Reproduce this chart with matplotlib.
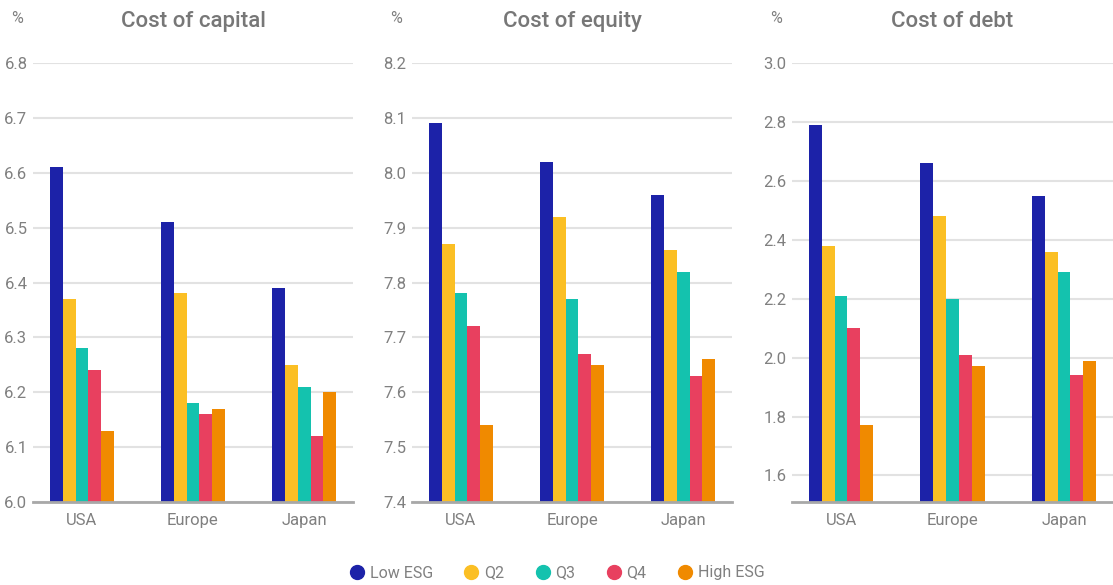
import numpy as np
import matplotlib
matplotlib.use("Agg")
import matplotlib.pyplot as plt
from matplotlib.lines import Line2D

plt.rcParams['font.family'] = ['Roboto', 'DejaVu Sans']

regions = ["USA", "Europe", "Japan"]
quintiles = ["Low ESG", "Q2", "Q3", "Q4", "High ESG"]
colors = ["#1c22a8", "#fbbf24", "#14c2ae", "#e8405f", "#f08a00"]

# cost of capital, one list per ESG quintile (USA, Europe, Japan)
capital = [
    [6.61, 6.51, 6.39],
    [6.37, 6.38, 6.25],
    [6.28, 6.18, 6.21],
    [6.24, 6.16, 6.12],
    [6.13, 6.17, 6.20],
]
equity = [
    [8.09, 8.02, 7.96],
    [7.87, 7.92, 7.86],
    [7.78, 7.77, 7.82],
    [7.72, 7.67, 7.63],
    [7.54, 7.65, 7.66],
]
debt = [
    [2.79, 2.66, 2.55],
    [2.38, 2.48, 2.36],
    [2.21, 2.20, 2.29],
    [2.10, 2.01, 1.94],
    [1.77, 1.97, 1.99],
]

titles = ["Cost of capital", "Cost of equity", "Cost of debt"]
ylims = [(6.0, 6.8), (7.4, 8.2), (1.51, 3.0)]
yticks = [np.arange(6.0, 6.81, 0.1), np.arange(7.4, 8.21, 0.1), np.arange(1.6, 3.01, 0.2)]
panels = [capital, equity, debt]

W, H = 1113, 585
fig = plt.figure(figsize=(W / 100, H / 100), dpi=100)

# axes extents in pixels (left, right)
spans = [(33, 353), (412, 732), (792, 1113)]
top_px, bottom_px = 63, 502

text_grey = "#808080"
bar_w = 0.115
x = np.arange(len(regions))

for i, (vals, (l, r)) in enumerate(zip(panels, spans)):
    ax = fig.add_axes([l / W, 1 - bottom_px / H, (r - l) / W, (bottom_px - top_px) / H])
    for k, series in enumerate(vals):
        ax.bar(x + (k - 2) * bar_w, np.array(series) - ylims[i][0], bar_w,
               bottom=ylims[i][0], color=colors[k], zorder=3, linewidth=0)
    ax.set_xlim(-0.44, 2.44)
    ax.set_ylim(*ylims[i])
    ax.set_yticks(yticks[i])
    ax.set_yticklabels([f"{t:.1f}" for t in yticks[i]])
    ax.set_xticks(x)
    ax.set_xticklabels(regions)
    ax.grid(axis='y', color="#e2e2e2", linewidth=1.5, zorder=0)
    ax.set_axisbelow(True)
    for s in ["top", "right", "left"]:
        ax.spines[s].set_visible(False)
    ax.spines["bottom"].set_color("#a8a8a8")
    ax.spines["bottom"].set_linewidth(2)
    ax.spines["bottom"].set_zorder(4)
    ax.tick_params(axis='both', length=0, labelsize=12, colors=text_grey)
    ax.tick_params(axis='x', pad=8)
    ax.tick_params(axis='y', pad=4)
    ax.text(-0.03, 1.085, "%", transform=ax.transAxes, ha='right', va='bottom',
            fontsize=11.5, color=text_grey)
    ax.set_title(titles[i], fontsize=16, fontweight='medium', color="#777777", pad=26)

handles = [Line2D([], [], marker='o', linestyle='', markersize=10,
                  markerfacecolor=c, markeredgecolor=c) for c in colors]
fig.legend(handles, quintiles, loc='center', bbox_to_anchor=(556 / W, 1 - 573 / H),
           ncol=5, frameon=False, fontsize=11.5, labelcolor=text_grey,
           handletextpad=0.2, columnspacing=1.8, handlelength=1.2)

fig.savefig("out.png", dpi=100, facecolor="white")
